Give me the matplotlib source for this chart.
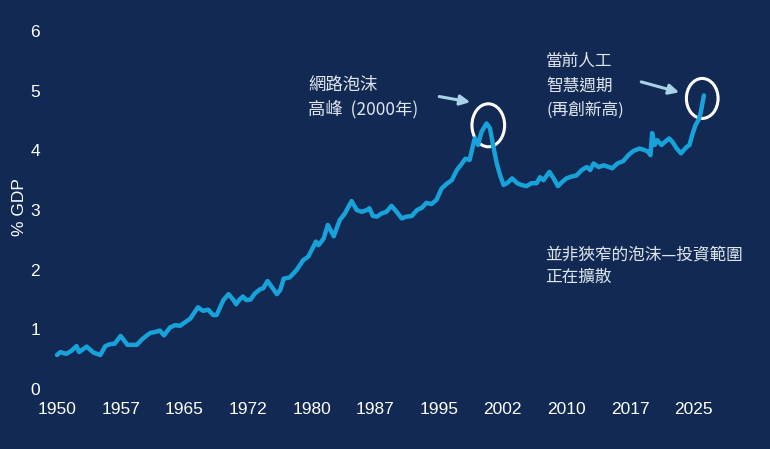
import matplotlib
matplotlib.use("Agg")
import matplotlib.pyplot as plt
from matplotlib.patches import Ellipse

# spending as % of GDP
years = [1950.0, 1950.4, 1950.8, 1951.1, 1951.7, 1952.3, 1952.6, 1953.5, 1954.3, 1955.1,
         1955.7, 1956.2, 1956.8, 1957.5, 1958.3, 1959.4, 1960.0, 1960.6, 1961.0, 1961.7,
         1962.1, 1962.6, 1963.3, 1963.9, 1964.5, 1965.1, 1965.7, 1966.6, 1967.2, 1967.8,
         1968.4, 1968.8, 1969.6, 1970.2, 1970.8, 1971.1, 1971.5, 1971.9, 1972.3, 1972.8,
         1973.3, 1973.9, 1974.3, 1974.8, 1975.3, 1975.9, 1976.3, 1976.7, 1977.4, 1978.2,
         1979.0, 1979.6, 1980.5, 1980.8, 1981.4, 1981.9, 1982.6, 1983.3, 1983.9, 1984.7,
         1985.3, 1985.9, 1986.5, 1986.8, 1987.2, 1987.7, 1988.2, 1988.8, 1989.4, 1990.0,
         1990.6, 1991.2, 1991.8, 1992.4, 1993.0, 1993.5, 1994.1, 1994.7, 1995.3, 1995.9,
         1996.5, 1997.1, 1997.7, 1998.1, 1998.6, 1999.2, 1999.6, 2000.0, 2000.6, 2001.0,
         2001.4, 2001.8, 2002.2, 2002.6, 2003.0, 2003.6, 2004.2, 2004.7, 2005.3, 2005.9,
         2006.5, 2006.9, 2007.3, 2008.0, 2008.5, 2009.0, 2009.5, 2010.0, 2010.6, 2011.2,
         2011.8, 2012.4, 2012.8, 2013.2, 2013.8, 2014.4, 2015.0, 2015.4, 2016.0, 2016.7,
         2017.3, 2017.9, 2018.6, 2019.1, 2019.6, 2019.9, 2020.1, 2020.4, 2020.7, 2021.2,
         2021.6, 2022.1, 2022.5, 2023.0, 2023.5, 2023.8, 2024.2, 2024.5, 2024.8, 2025.2,
         2025.6, 2025.8, 2026.2]
pct_gdp = [0.57, 0.62, 0.60, 0.59, 0.64, 0.72, 0.62, 0.71, 0.61, 0.57,
           0.72, 0.75, 0.76, 0.89, 0.74, 0.74, 0.83, 0.90, 0.94, 0.96,
           0.98, 0.90, 1.03, 1.07, 1.06, 1.12, 1.18, 1.37, 1.31, 1.33,
           1.24, 1.24, 1.49, 1.59, 1.49, 1.42, 1.50, 1.55, 1.49, 1.50,
           1.60, 1.67, 1.69, 1.81, 1.71, 1.59, 1.66, 1.85, 1.87, 1.99,
           2.16, 2.22, 2.47, 2.41, 2.52, 2.75, 2.56, 2.83, 2.94, 3.15,
           3.00, 2.97, 3.00, 3.03, 2.90, 2.89, 2.94, 2.97, 3.07, 2.97,
           2.86, 2.89, 2.90, 3.00, 3.04, 3.12, 3.10, 3.17, 3.36, 3.44,
           3.50, 3.67, 3.78, 3.86, 3.84, 4.20, 4.09, 4.31, 4.45, 4.37,
           4.06, 3.78, 3.58, 3.42, 3.45, 3.53, 3.45, 3.42, 3.40, 3.45,
           3.45, 3.55, 3.50, 3.64, 3.53, 3.40, 3.47, 3.53, 3.56, 3.58,
           3.67, 3.72, 3.67, 3.78, 3.72, 3.75, 3.72, 3.70, 3.78, 3.82,
           3.92, 3.99, 4.03, 4.01, 3.98, 3.92, 4.29, 4.09, 4.17, 4.09,
           4.14, 4.20, 4.14, 4.03, 3.95, 4.00, 4.06, 4.09, 4.25, 4.42,
           4.52, 4.62, 4.92]

xtick_pos = [1950, 1957.5, 1965, 1972.5, 1980, 1987.5, 1995, 2002.5, 2010, 2017.5, 2025]
xtick_labels = ["1950", "1957", "1965", "1972", "1980", "1987", "1995", "2002", "2010", "2017", "2025"]
ytick_pos = [0, 1, 2, 3, 4, 5, 6]

bg = "#122a53"
line_col = "#18a2da"
arrow_col = "#a8d2ea"
txt_col = "#dfe5ee"
cjk = ["Noto Sans CJK TC", "DejaVu Sans"]

plt.rcParams["font.family"] = ["Liberation Sans", "DejaVu Sans"]

fig = plt.figure(figsize=(7.7, 4.49), dpi=100, facecolor=bg)
ax = fig.add_axes([0.063, 0.1336, 0.8931, 0.8239])
ax.set_facecolor(bg)

ax.plot(years, pct_gdp, color=line_col, lw=3.2, solid_joinstyle="round", solid_capstyle="round")

ax.set_xlim(1949, 2030)
ax.set_ylim(0, 6.2)
ax.set_xticks(xtick_pos)
ax.set_xticklabels(xtick_labels)
ax.set_yticks(ytick_pos)
ax.tick_params(length=0, colors="white", labelsize=12.5)
ax.tick_params(axis="x", pad=9)
ax.tick_params(axis="y", pad=6)
for s in ax.spines.values():
    s.set_visible(False)

fig.text(19.5 / 770, 1 - 207 / 449, "% GDP", rotation=90, ha="center", va="center",
         color="white", fontsize=12.5)

# circles around the two peaks
ax.add_patch(Ellipse((2000.8, 4.42), 3.85, 0.72, fill=False, ec="white", lw=2.2))
ax.add_patch(Ellipse((2026.0, 4.87), 3.73, 0.67, fill=False, ec="white", lw=2.2))

# arrows pointing at them
ax.annotate("", xy=(1999.0, 4.80), xytext=(1994.7, 4.91),
            arrowprops=dict(arrowstyle="-|>,head_length=0.6,head_width=0.3", color=arrow_col, lw=2.2))
ax.annotate("", xy=(2023.6, 4.96), xytext=(2018.5, 5.16),
            arrowprops=dict(arrowstyle="-|>,head_length=0.6,head_width=0.3", color=arrow_col, lw=2.2))

ax.text(1979.6, 4.89, "網路泡沫\n高峰  (2000年)", family=cjk, style="italic", fontsize=12.5,
        color=txt_col, ha="left", va="center", linespacing=1.4)
ax.text(2007.6, 5.08, "當前人工\n智慧週期\n(再創新高)", family=cjk, style="italic", fontsize=12,
        color=txt_col, ha="left", va="center", linespacing=1.55)
ax.text(2007.5, 2.06, "並非狹窄的泡沫—投資範圍\n正在擴散", family=cjk, fontsize=12,
        color=txt_col, ha="left", va="center", linespacing=1.45)

fig.savefig("out.png", dpi=100, facecolor=bg)
